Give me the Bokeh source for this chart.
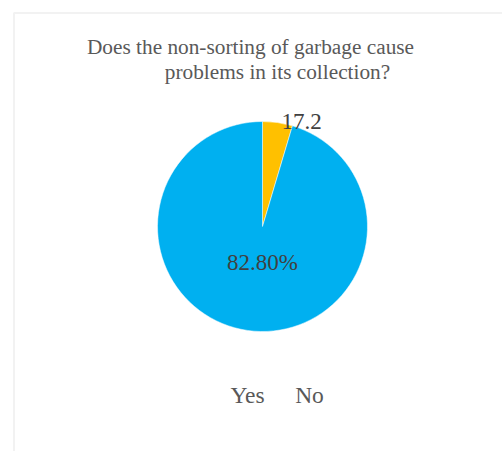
import math
from bokeh.plotting import figure
from bokeh.models import BoxAnnotation, ColumnDataSource
from bokeh.core.properties import value
from bokeh.embed import file_html
from bokeh.resources import INLINE

# ---- data ----
title_lines = ["Does the non-sorting of garbage cause", "problems in its collection?"]
categories = ["Yes", "No"]
shares = [95.4, 4.6]            # slice sizes as drawn in the picture
data_labels = ["82.80%", "17.2"]  # labels as printed on the chart
colors = ["#00B0F0", "#FFC000"]

W, H = 502, 451
FONT = "Liberation Serif"
TXT = "#404040"

p = figure(width=W, height=H, x_range=(0, W), y_range=(0, H),
           output_backend="svg", toolbar_location=None,
           min_border=0, outline_line_color=None, background_fill_color="white")
p.axis.visible = False
p.grid.visible = False

# chart border (light gray, top and left visible)
p.add_layout(BoxAnnotation(left=13.5, right=W + 20, top=H - 12.5, bottom=-20,
                           fill_alpha=0, line_color="#D4D4D4", line_width=2))

# ---- pie ----
cx, cy, r = 262, H - 226, 105
total = sum(shares)
# yellow ("No") starts at 12 o'clock going clockwise, then "Yes"
order = [1, 0]
start = 90.0
starts, ends, cols = [], [], []
for i in order:
    sweep = shares[i] / total * 360.0
    starts.append(math.radians(start - sweep))
    ends.append(math.radians(start))
    cols.append(colors[i])
    start -= sweep
src = ColumnDataSource(dict(x=[cx] * 2, y=[cy] * 2, s=starts, e=ends, c=cols))
p.wedge(x="x", y="y", radius=r, start_angle="s", end_angle="e",
        fill_color="c", line_color="white", line_width=0.5, source=src)

# data labels
p.text(x=[262, 301], y=[H - 262, H - 121], text=data_labels,
       text_font=value(FONT), text_font_size="23px", text_color=TXT,
       text_align="center", text_baseline="middle")

# title
p.text(x=[250, 277], y=[H - 46, H - 71], text=title_lines,
       text_font=value(FONT), text_font_size="21.3px", text_color="#595959",
       text_align="center", text_baseline="middle")

# legend (text only)
p.text(x=[247, 309], y=[H - 394, H - 394], text=categories,
       text_font=value(FONT), text_font_size="23.5px", text_color="#595959",
       text_align="center", text_baseline="middle")

open("out.html", "w").write(file_html(p, INLINE))
